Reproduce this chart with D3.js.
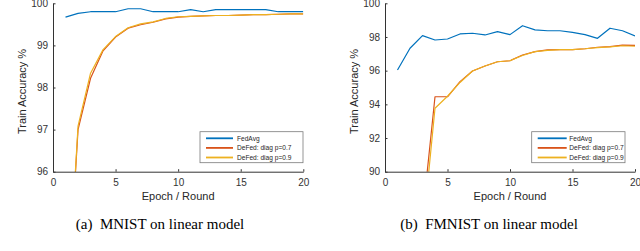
<!DOCTYPE html>
<html>
<head>
<meta charset="utf-8">
<script src="https://cdn.jsdelivr.net/npm/d3@7"></script>
<style>
  body { margin:0; background:#fff; }
  svg { display:block; }
  .tick text { font-family:"Liberation Sans", Arial, sans-serif; font-size:10px; fill:#333; }
  .axis path, .axis line { stroke:#333; }
  .lbl { font-family:"Liberation Sans", Arial, sans-serif; font-size:11px; fill:#262626; }
  .cap { font-family:"Liberation Serif", "Times New Roman", serif; font-size:15px; fill:#000; }
  .leg { font-family:"Liberation Sans", Arial, sans-serif; font-size:6.6px; fill:#262626; }
</style>
</head>
<body>
<svg id="chart" width="640" height="251"></svg>
<script>
const epochs = d3.range(1, 21);
const seriesNames = ['FedAvg', 'DeFed: diag p=0.7', 'DeFed: diag p=0.9'];
const colors = ['#0072BD', '#D95319', '#EDB120'];

// (a) MNIST
const mnistFedAvg = [99.67,99.76,99.80,99.80,99.80,99.87,99.87,99.80,99.80,99.80,99.85,99.80,99.85,99.85,99.85,99.85,99.85,99.80,99.80,99.80];
const mnistP07   = [92.0,97.0,98.22,98.87,99.20,99.41,99.49,99.55,99.63,99.67,99.69,99.70,99.71,99.71,99.72,99.73,99.73,99.74,99.75,99.75];
const mnistP09   = [92.0,97.08,98.34,98.90,99.21,99.42,99.51,99.56,99.64,99.68,99.69,99.70,99.71,99.71,99.72,99.73,99.73,99.74,99.75,99.75];

// (b) FMNIST
const fmnistFedAvg = [96.04,97.33,98.08,97.82,97.88,98.18,98.22,98.12,98.32,98.14,98.67,98.42,98.37,98.37,98.27,98.14,97.92,98.52,98.37,98.06];
const fmnistP07   = [80.0,84.0,87.3,94.45,94.45,95.35,95.98,96.28,96.53,96.59,96.93,97.13,97.23,97.25,97.25,97.30,97.39,97.43,97.52,97.50];
const fmnistP09   = [80.0,84.0,86.2,93.77,94.48,95.30,95.98,96.28,96.53,96.59,96.90,97.13,97.20,97.25,97.25,97.30,97.37,97.41,97.48,97.45];

const xTicks = [0, 5, 10, 15, 20];
const mnistYTicks = [96, 97, 98, 99, 100];
const fmnistYTicks = [90, 92, 94, 96, 98, 100];

const svg = d3.select('#chart');

function panel(id, left, right, yDomain, yTicks, data, caption, legendX, legendW) {
  const top = 3.3, bottom = 171.7;
  const x = d3.scaleLinear().domain([0, 20]).range([left, right]);
  const y = d3.scaleLinear().domain(yDomain).range([bottom, top]);

  svg.append('clipPath').attr('id', 'clip' + id)
    .append('rect').attr('x', left).attr('y', top).attr('width', right - left).attr('height', bottom - top);

  const line = d3.line().x((d, i) => x(epochs[i])).y(d => y(d));
  const g = svg.append('g').attr('clip-path', `url(#clip${id})`);
  data.forEach((s, k) => {
    g.append('path').attr('d', line(s)).attr('fill', 'none')
      .attr('stroke', colors[k]).attr('stroke-width', 1.2).attr('stroke-linejoin', 'round');
  });

  svg.append('g').attr('class', 'axis').attr('transform', `translate(0,${bottom})`)
    .call(d3.axisBottom(x).tickValues(xTicks).tickFormat(d3.format('d')).tickSizeInner(-2.5).tickSizeOuter(0).tickPadding(7))
    .call(a => a.selectAll('.tick text').attr('dy', '0.71em'));
  svg.append('g').attr('class', 'axis').attr('transform', `translate(${left},0)`)
    .call(d3.axisLeft(y).tickValues(yTicks).tickFormat(d3.format('d')).tickSizeInner(-2.5).tickSizeOuter(0).tickPadding(5));

  svg.append('text').attr('class', 'lbl').attr('text-anchor', 'middle')
    .attr('x', (left + right) / 2).attr('y', 200).text('Epoch / Round');
  svg.append('text').attr('class', 'lbl').attr('text-anchor', 'middle')
    .attr('transform', `translate(${left - 27},${(top + bottom) / 2 + 4}) rotate(-90)`)
    .text('Train Accuracy %');
  svg.append('text').attr('class', 'cap').attr('text-anchor', 'middle')
    .attr('x', id === 'a' ? 160 : 489).attr('y', 229).attr('xml:space', 'preserve').text(caption);

  // legend
  const lg = svg.append('g').attr('transform', `translate(${legendX},131.7)`);
  lg.append('rect').attr('width', legendW).attr('height', 31)
    .attr('fill', '#fff').attr('stroke', '#7a7a7a').attr('stroke-width', 0.8);
  seriesNames.forEach((n, k) => {
    const yy = 6.6 + k * 9.6;
    lg.append('line').attr('x1', 6).attr('x2', id === 'a' ? 33 : 35).attr('y1', yy).attr('y2', yy)
      .attr('stroke', colors[k]).attr('stroke-width', 1.8);
    lg.append('text').attr('class', 'leg').attr('x', id === 'a' ? 37 : 37.5).attr('y', yy + 2.3).text(n);
  });
}

panel('a', 53, 303.3, [96, 100], mnistYTicks, [mnistFedAvg, mnistP07, mnistP09], '(a)  MNIST on linear model', 200, 103);
panel('b', 385, 635, [90, 100], fmnistYTicks, [fmnistFedAvg, fmnistP07, fmnistP09], '(b)  FMNIST on linear model', 531.7, 93.3);
</script>
</body>
</html>
